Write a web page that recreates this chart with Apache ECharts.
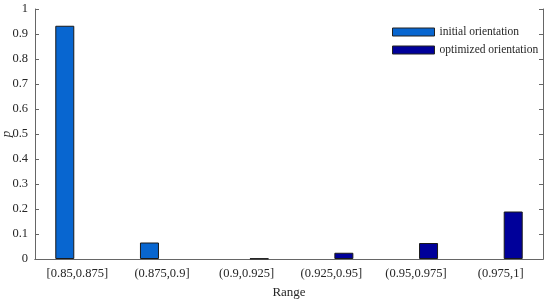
<!DOCTYPE html>
<html>
<head>
<meta charset="utf-8">
<script src="https://cdn.jsdelivr.net/npm/echarts@6/dist/echarts.min.js"></script>
<style>
  html, body { margin: 0; padding: 0; background: #fff; }
  #main { width: 550px; height: 300px; }
</style>
</head>
<body>
<div id="main"></div>
<script>
  // 数据
  const categories = ['[0.85,0.875]', '(0.875,0.9]', '(0.9,0.925]', '(0.925,0.95]', '(0.95,0.975]', '(0.975,1]'];
  const initialValues = [0.933, 0.066, null, null, null, null];
  const optimizedValues = [null, null, 0.002, 0.025, 0.064, 0.19];
  const yTicks = [0, 0.1, 0.2, 0.3, 0.4, 0.5, 0.6, 0.7, 0.8, 0.9, 1];

  const font = 'Liberation Serif, Times New Roman, serif';
  const axisColor = '#666';
  const textColor = '#262626';

  let myChart = echarts.init(document.getElementById('main'));

  const option = {
    animation: false,
    textStyle: { fontFamily: font },
    grid: { left: 35, right: 7, top: 9, bottom: 41, outerBoundsMode: 'none', containLabel: false },
    legend: {
      orient: 'vertical',
      left: 387,
      top: 21,
      icon: 'rect',
      itemWidth: 42,
      itemHeight: 8,
      itemGap: 6,
      itemStyle: { borderColor: '#222', borderWidth: 1 },
      textStyle: { fontFamily: font, fontSize: 11.5, color: textColor },
      data: ['initial orientation', 'optimized orientation']
    },
    xAxis: [
      {
        type: 'category',
        data: categories,
        name: 'Range',
        nameLocation: 'middle',
        nameGap: 27,
        nameMoveOverlap: false,
        nameTextStyle: { fontFamily: font, fontSize: 13, color: textColor },
        axisLine: { lineStyle: { color: axisColor } },
        axisTick: { inside: true, alignWithLabel: true, length: 4, lineStyle: { color: axisColor } },
        axisLabel: { fontFamily: font, fontSize: 12.5, color: textColor, margin: 8 }
      },
      {
        type: 'category',
        data: categories,
        position: 'top',
        axisLine: { lineStyle: { color: axisColor } },
        axisTick: { inside: true, alignWithLabel: true, length: 4, lineStyle: { color: axisColor } },
        axisLabel: { show: false }
      }
    ],
    yAxis: [
      {
        type: 'value',
        min: 0,
        max: 1,
        interval: 0.1,
        name: 'p',
        nameLocation: 'middle',
        nameGap: 22,
        nameMoveOverlap: false,
        nameRotate: 90,
        nameTextStyle: { fontFamily: font, fontSize: 13, fontStyle: 'italic', color: textColor },
        splitLine: { show: false },
        axisLine: { show: true, lineStyle: { color: axisColor } },
        axisTick: { show: true, inside: true, length: 4, lineStyle: { color: axisColor } },
        axisLabel: {
          fontFamily: font, fontSize: 12.5, color: textColor, margin: 7,
          formatter: function (val) {
            const v = Math.round(val * 10) / 10;
            return yTicks.indexOf(v) >= 0 ? String(v) : '';
          }
        }
      },
      {
        type: 'value',
        min: 0,
        max: 1,
        interval: 0.1,
        position: 'right',
        splitLine: { show: false },
        axisLine: { show: true, lineStyle: { color: axisColor } },
        axisTick: { show: true, inside: true, length: 4, lineStyle: { color: axisColor } },
        axisLabel: { show: false }
      }
    ],
    series: [
      {
        name: 'initial orientation',
        type: 'bar',
        data: initialValues,
        barWidth: 19,
        barGap: '32%',
        itemStyle: { color: '#0866d0', borderColor: '#1a1a1a', borderWidth: 1 }
      },
      {
        name: 'optimized orientation',
        type: 'bar',
        data: optimizedValues,
        barWidth: 19,
        itemStyle: { color: '#00009a', borderColor: '#1a1a1a', borderWidth: 1 }
      }
    ]
  };

  option && myChart.setOption(option);
</script>
</body>
</html>
